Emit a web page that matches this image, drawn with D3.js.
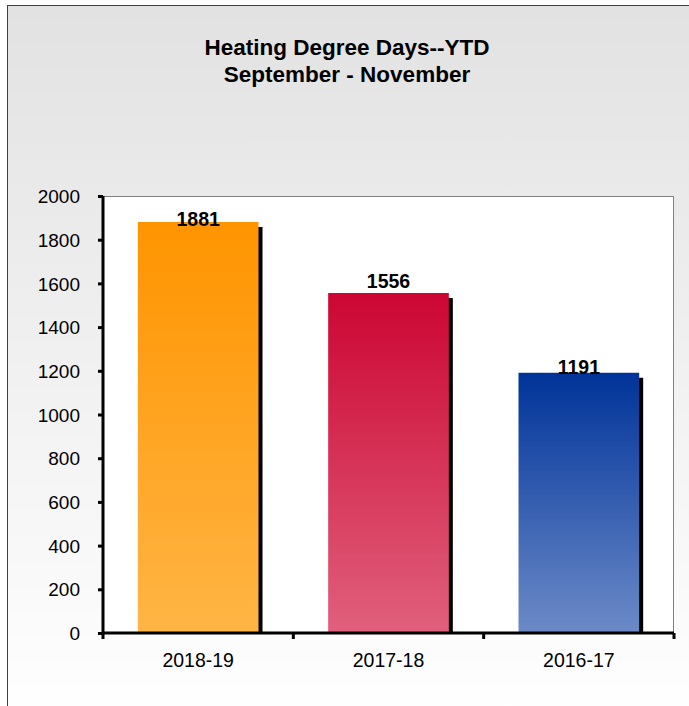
<!DOCTYPE html>
<html>
<head>
<meta charset="utf-8">
<script src="https://cdn.jsdelivr.net/npm/d3@7"></script>
<style>
  body { margin: 0; background: #fff; }
  text { font-family: "Liberation Sans", Arial, sans-serif; }
</style>
</head>
<body>
<div id="chart"></div>
<script>
// data
var seasons = ["2018-19", "2017-18", "2016-17"];
var degreeDays = [1881, 1556, 1191];
var yTicks = [0, 200, 400, 600, 800, 1000, 1200, 1400, 1600, 1800, 2000];
var titleLines = ["Heating Degree Days--YTD", "September - November"];
var barTop = ["#ff9400", "#cc0633", "#003399"];
var barBottom = ["#ffb545", "#e0607c", "#6c8ac7"];

// label baseline offset from the bar top (px), as placed in the original
var labelNudge = {"2018-19": 4, "2017-18": -5, "2016-17": 1};

var W = 689, H = 706;
var margin = {top: 196, right: 15, bottom: 73, left: 103};
var width = W - margin.left - margin.right,
    height = H - margin.top - margin.bottom;

var svg = d3.select("#chart").append("svg")
    .attr("width", W)
    .attr("height", H);

var defs = svg.append("defs");
var bg = defs.append("linearGradient").attr("id", "bg")
    .attr("x1", 0).attr("y1", 0).attr("x2", 0).attr("y2", 1);
bg.append("stop").attr("offset", "0%").attr("stop-color", "#e2e2e2");
bg.append("stop").attr("offset", "100%").attr("stop-color", "#ffffff");

seasons.forEach(function(s, i) {
  var g = defs.append("linearGradient").attr("id", "bar" + i)
      .attr("x1", 0).attr("y1", 0).attr("x2", 0).attr("y2", 1);
  g.append("stop").attr("offset", "0%").attr("stop-color", barTop[i]);
  g.append("stop").attr("offset", "100%").attr("stop-color", barBottom[i]);
});

// outer frame
svg.append("rect")
    .attr("x", 7.5).attr("y", 5.5)
    .attr("width", W + 10).attr("height", H + 10)
    .style("fill", "url(#bg)")
    .style("stroke", "#404040")
    .style("stroke-width", 1);

// title
svg.append("g").selectAll("text")
    .data(titleLines)
  .enter().append("text")
    .attr("x", 347)
    .attr("y", function(d, i) { return 55 + i * 27; })
    .style("text-anchor", "middle")
    .style("font-size", "22.5px")
    .style("font-weight", "bold")
    .text(function(d) { return d; });

var g = svg.append("g")
    .attr("transform", "translate(" + margin.left + "," + margin.top + ")");

var xScale = d3.scaleBand()
    .domain(seasons)
    .range([0, width])
    .paddingInner(0.366)
    .paddingOuter(0.183);

var yScale = d3.scaleLinear()
    .domain([0, 2000])
    .range([height, 0]);

// plot area
g.append("rect")
    .attr("x", 0).attr("y", 0.5)
    .attr("width", width - 0.5).attr("height", height)
    .style("fill", "#fff")
    .style("stroke", "#808080")
    .style("stroke-width", 1);

// shadows
g.selectAll(".shadow")
    .data(degreeDays)
  .enter().append("rect")
    .attr("class", "shadow")
    .attr("x", function(d, i) { return xScale(seasons[i]) + 4; })
    .attr("y", function(d) { return yScale(d) + 5; })
    .attr("width", xScale.bandwidth())
    .attr("height", function(d) { return height - yScale(d) - 5; })
    .style("fill", "#000");

// bars
g.selectAll(".bar")
    .data(degreeDays)
  .enter().append("rect")
    .attr("class", "bar")
    .attr("x", function(d, i) { return xScale(seasons[i]); })
    .attr("y", function(d) { return yScale(d); })
    .attr("width", xScale.bandwidth())
    .attr("height", function(d) { return height - yScale(d); })
    .style("fill", function(d, i) { return "url(#bar" + i + ")"; });

// value labels
g.selectAll(".val")
    .data(degreeDays)
  .enter().append("text")
    .attr("class", "val")
    .attr("x", function(d, i) { return xScale(seasons[i]) + xScale.bandwidth() / 2; })
    .attr("y", function(d, i) { return yScale(d) + labelNudge[seasons[i]]; })
    .style("text-anchor", "middle")
    .style("font-size", "19.5px")
    .style("font-weight", "bold")
    .text(function(d) { return d; });

// y axis
var yAxis = g.append("g")
    .attr("class", "y axis")
    .call(d3.axisLeft(yScale).tickValues(yTicks).tickSize(5).tickPadding(18).tickFormat(d3.format("d")));
yAxis.select(".domain").attr("d", "M0," + height + "V0").style("stroke-width", 3);
yAxis.selectAll(".tick line").style("stroke-width", 3);
yAxis.selectAll(".tick text").style("font-size", "19px").attr("dy", "0.35em");

// x axis, ticks on band edges
var xAxis = g.append("g")
    .attr("class", "x axis")
    .attr("transform", "translate(0," + height + ")")
    .call(d3.axisBottom(xScale).tickSize(0).tickPadding(20));
xAxis.select(".domain").attr("d", "M0,0H" + width).style("stroke-width", 3);
xAxis.selectAll(".tick text").style("font-size", "19.5px");
var edges = seasons.map(function(s) { return xScale(s) - xScale.step() * xScale.paddingInner() / 2; });
edges[0] = 0;
edges.push(width);
xAxis.selectAll(".edge")
    .data(edges)
  .enter().append("line")
    .attr("class", "edge")
    .attr("x1", function(d) { return d; })
    .attr("x2", function(d) { return d; })
    .attr("y1", 0).attr("y2", 6)
    .style("stroke", "#000")
    .style("stroke-width", 3);
</script>
</body>
</html>
